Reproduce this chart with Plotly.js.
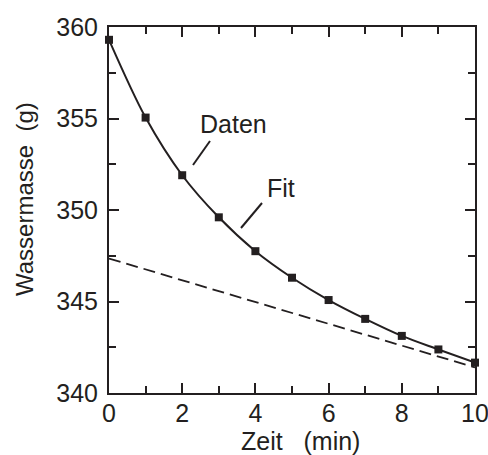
<!DOCTYPE html>
<html><head><meta charset="utf-8">
<script src="https://cdn.plot.ly/plotly-3.0.1.min.js"></script>
<style>html,body{margin:0;padding:0;background:#fff}#chart{width:488px;height:455px}</style>
</head><body><div id="chart"></div>
<script>
const timeMin = [0,1,2,3,4,5,6,7,8,9,10];
const waterMass = [359.3,355.05,351.9,349.6,347.75,346.3,345.08,344.05,343.12,342.38,341.66];
const baseX = [0,10];
const baseY = [347.35,341.4];
const xTicks = [0,2,4,6,8,10];
const yTicks = [340,345,350,355,360];
const ink = '#231f20';
const fam = '"Liberation Sans", Arial, sans-serif';
const tickFont = {family:fam, size:25, color:ink};
const yTitleFont = {family:fam, size:24, color:ink};
const xTitleFont = {family:fam, size:25, color:ink};
const noteFont = {family:fam, size:25, color:ink};

const traces = [
  {x: baseX, y: baseY, mode:'lines', line:{color:ink, width:1.8, dash:'12px,6px'}, hoverinfo:'skip', cliponaxis:false},
  {x: timeMin, y: waterMass, mode:'lines+markers', line:{color:ink, width:2, shape:'spline', smoothing:0.9},
   marker:{symbol:'square', size:8, color:ink}, cliponaxis:false}
];

const axisCommon = {showline:true, mirror:'allticks', linecolor:ink, linewidth:2, ticks:'inside', ticklen:10, tickwidth:2, tickcolor:ink,
  showgrid:false, zeroline:false, tickfont:tickFont, fixedrange:true, ticklabeloverflow:'allow'};

const L = 109, R = 13, T = 27, B = 62;
const pw = 488-L-R, ph = 455-T-B;
function px2x(p){return (p-L)/pw*10;}
function py2y(p){return 360-(p-T)/ph*20;}

const layout = {
  width:488, height:455, showlegend:false,
  paper_bgcolor:'#fff', plot_bgcolor:'#fff',
  margin:{l:L, r:R, t:T, b:B},
  xaxis: Object.assign({}, axisCommon, {range:[0,10], tickvals:xTicks, ticktext:xTicks.map(String), ticklabelstandoff:-3,
    minor:{dtick:1, tick0:0, ticks:'inside', ticklen:7, tickwidth:2, tickcolor:ink}}),
  yaxis: Object.assign({}, axisCommon, {range:[340,360], tickvals:yTicks, ticktext:yTicks.map(String), ticklabelstandoff:4,
    minor:{dtick:2.5, tick0:340, ticks:'inside', ticklen:7, tickwidth:2, tickcolor:ink}}),
  annotations:[
    {xref:'paper', yref:'paper', x:(300-L)/pw, y:(455-B-441)/ph, text:'Zeit&nbsp;&nbsp;&nbsp;(min)', showarrow:false, font:xTitleFont, xanchor:'center', yanchor:'middle', borderpad:0},
    {xref:'paper', yref:'paper', x:(24-L)/pw, y:(455-B-199)/ph, text:'Wassermasse&nbsp;&nbsp;(g)', showarrow:false, font:yTitleFont, textangle:-90, xanchor:'center', yanchor:'middle', borderpad:0},
    {x:px2x(233), y:py2y(124), text:'Daten', showarrow:false, font:noteFont},
    {x:px2x(281), y:py2y(188), text:'Fit', showarrow:false, font:noteFont}
  ],
  shapes:[
    {type:'line', xref:'x', yref:'y', x0:px2x(210), y0:py2y(141), x1:px2x(193), y1:py2y(165), line:{color:ink, width:2}},
    {type:'line', xref:'x', yref:'y', x0:px2x(262), y0:py2y(203), x1:px2x(241), y1:py2y(228), line:{color:ink, width:2}}
  ]
};
Plotly.newPlot('chart', traces, layout, {displayModeBar:false, staticPlot:true});
</script></body></html>
